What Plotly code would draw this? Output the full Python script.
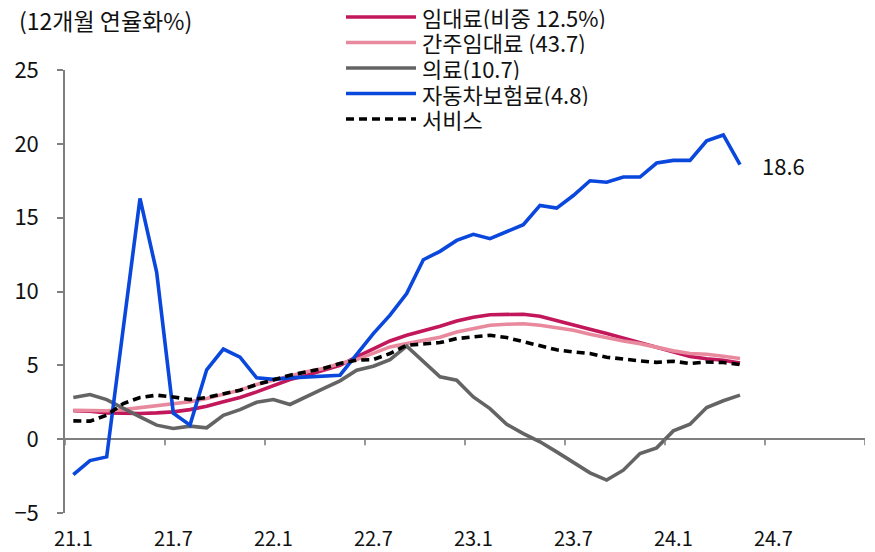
import plotly.graph_objects as go

# ---- data (monthly, 2021.1 .. 2024.5) ----
month_index = list(range(41))
tick_positions = [0, 6, 12, 18, 24, 30, 36, 42]
tick_labels = ["21.1", "21.7", "22.1", "22.7", "23.1", "23.7", "24.1", "24.7"]

rent = [1.92, 1.90, 1.78, 1.74, 1.74, 1.78, 1.85, 2.00, 2.23, 2.53,
        2.82, 3.20, 3.65, 4.04, 4.33, 4.67, 5.00, 5.57, 6.13, 6.65,
        7.04, 7.33, 7.65, 8.00, 8.25, 8.43, 8.47, 8.46, 8.32, 8.05,
        7.75, 7.45, 7.15, 6.85, 6.55, 6.20, 5.90, 5.60, 5.45, 5.35,
        5.15]
imputed_rent = [1.96, 1.96, 1.92, 2.00, 2.12, 2.30, 2.41, 2.53, 2.75, 3.02,
                3.32, 3.70, 3.99, 4.33, 4.56, 4.78, 5.12, 5.39, 5.80, 6.25,
                6.47, 6.70, 6.90, 7.26, 7.50, 7.71, 7.78, 7.82, 7.71, 7.55,
                7.37, 7.10, 6.85, 6.65, 6.47, 6.20, 5.98, 5.80, 5.75, 5.62,
                5.46]
medical = [2.82, 3.02, 2.68, 2.07, 1.51, 0.95, 0.72, 0.88, 0.77, 1.62,
           2.00, 2.50, 2.68, 2.35, 2.86, 3.43, 3.95, 4.67, 4.94, 5.39,
           6.30, 5.23, 4.22, 3.99, 2.86, 2.07, 1.01, 0.38, -0.18, -0.86,
           -1.60, -2.28, -2.77, -2.10, -0.97, -0.59, 0.56, 1.01, 2.14, 2.60,
           2.98]
car_insurance = [-2.40, -1.45, -1.20, 7.50, 16.30, 11.30, 1.75, 0.95, 4.70, 6.10,
                 5.55, 4.15, 4.05, 4.15, 4.20, 4.25, 4.33, 5.75, 7.15, 8.40,
                 9.86, 12.15, 12.72, 13.46, 13.87, 13.58, 14.07, 14.52, 15.83, 15.65,
                 16.50, 17.50, 17.40, 17.75, 17.75, 18.70, 18.88, 18.88, 20.20, 20.60,
                 18.60]
services = [1.24, 1.22, 1.62, 2.41, 2.82, 2.98, 2.86, 2.68, 2.82, 3.09,
            3.32, 3.70, 4.04, 4.33, 4.56, 4.78, 5.12, 5.35, 5.39, 5.80,
            6.36, 6.47, 6.54, 6.81, 6.92, 7.04, 6.88, 6.60, 6.36, 6.05,
            5.91, 5.80, 5.55, 5.40, 5.30, 5.20, 5.28, 5.12, 5.23, 5.19,
            5.05]

series_names = ["임대료(비중 12.5%)", "간주임대료 (43.7)", "의료(10.7)", "자동차보험료(4.8)", "서비스"]
series_values = [rent, imputed_rent, medical, car_insurance, services]
series_colors = ["#C2185B", "#E8899E", "#646464", "#0A47DC", "#000000"]
series_dash = ["solid", "solid", "solid", "solid", "8px,5px"]

FONT = "Noto Sans CJK KR"
AXIS_COLOR = "#7F7F7F"
TEXT_COLOR = "#111111"

# plot-area geometry (pixels) used to place the hand-made legend
W, H = 875, 552
ML, MR, MT, MB = 65, 10, 70, 39
PW, PH = W - ML - MR, H - MT - MB


def px_to_paper(px, py):
    return (px - ML) / PW, (H - MB - py) / PH


fig = go.Figure()
for name, vals, col, dash in zip(series_names, series_values, series_colors, series_dash):
    fig.add_trace(go.Scatter(
        x=month_index, y=vals, name=name, mode="lines",
        line=dict(color=col, width=3.6, dash=dash),
        hoverinfo="skip", showlegend=False,
    ))

# legend (drawn manually to match the long line samples and tight row spacing)
legend_rows_y = [17, 42.5, 68, 93.5, 119]
for name, col, dash, ry in zip(series_names, series_colors, series_dash, legend_rows_y):
    x0, y0 = px_to_paper(346, ry)
    x1, _ = px_to_paper(416, ry)
    fig.add_shape(type="line", xref="paper", yref="paper", x0=x0, x1=x1, y0=y0, y1=y0,
                  line=dict(color=col, width=3.6, dash=dash))
    tx, ty = px_to_paper(421, ry)
    fig.add_annotation(xref="paper", yref="paper", x=tx, y=ty, text=name,
                       showarrow=False, xanchor="left", yanchor="middle",
                       height=24, borderpad=0,
                       font=dict(family=FONT, size=22, color=TEXT_COLOR))

# category-boundary tick marks hanging below the zero line
boundaries = [p - 0.5 for p in range(0, 49, 6)]
for b in boundaries:
    fig.add_shape(type="line", xref="x", yref="y", x0=b, x1=b, y0=0, y1=-0.42,
                  line=dict(color=AXIS_COLOR, width=1.6))

# label for the last car-insurance value
fig.add_annotation(x=month_index[-1], y=car_insurance[-1], text=f"{car_insurance[-1]:.1f}",
                   showarrow=False, xanchor="left", yanchor="middle", xshift=20,
                   font=dict(family=FONT, size=22, color=TEXT_COLOR))

# unit title
tx, ty = px_to_paper(17, 20)
fig.add_annotation(xref="paper", yref="paper", x=tx, y=ty, text="(12개월 연율화%)",
                   showarrow=False, xanchor="left", yanchor="middle",
                   font=dict(family=FONT, size=23, color=TEXT_COLOR))

fig.update_layout(
    width=W, height=H,
    margin=dict(l=ML, r=MR, t=MT, b=MB, autoexpand=False),
    plot_bgcolor="white", paper_bgcolor="white",
    font=dict(family=FONT, color=TEXT_COLOR),
    showlegend=False,
    xaxis=dict(range=[-0.5, 47.5], tickvals=tick_positions, ticktext=tick_labels,
               showline=False, ticks="", showgrid=False, zeroline=False,
               ticklabelstandoff=12,
               tickfont=dict(family=FONT, size=20, color=TEXT_COLOR)),
    yaxis=dict(range=[-5, 25], tickvals=[-5, 0, 5, 10, 15, 20, 25],
               showline=True, linecolor=AXIS_COLOR, linewidth=1.6,
               ticks="outside", ticklen=6, tickcolor=AXIS_COLOR, tickwidth=1.6,
               showgrid=False, zeroline=True, zerolinecolor=AXIS_COLOR, zerolinewidth=1.6,
               ticklabelstandoff=14,
               tickfont=dict(family=FONT, size=22, color=TEXT_COLOR)),
)

fig.write_html("out.html", config={"displayModeBar": False},
               post_script="document.body.style.margin='0px';")
